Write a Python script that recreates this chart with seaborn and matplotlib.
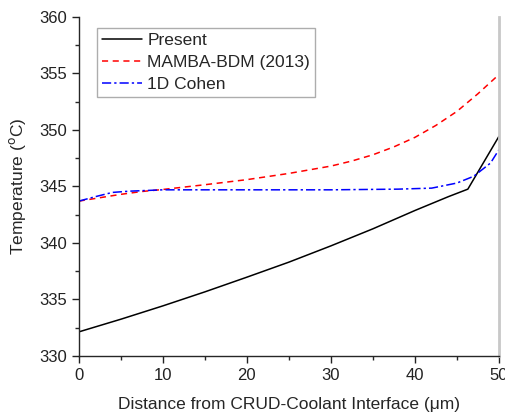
import matplotlib
matplotlib.use("Agg")
import matplotlib.pyplot as plt
from matplotlib.ticker import MultipleLocator
import seaborn as sns

# values
present_x = [0, 5, 10, 15, 20, 25, 30, 35, 40, 44, 46.3, 50]
present_y = [332.13, 333.25, 334.43, 335.67, 336.97, 338.3, 339.74, 341.25, 342.87, 344.1, 344.76, 349.43]

mamba_x = [0, 2.5, 5, 7.5, 10, 15, 20, 25, 30, 32.5, 35, 37.5, 40, 42.5, 45, 47.5, 50]
mamba_y = [343.7, 344.0, 344.3, 344.55, 344.73, 345.15, 345.6, 346.15, 346.8, 347.25, 347.8, 348.5, 349.34, 350.4, 351.64, 353.2, 354.9]

cohen_x = [0, 2, 4, 6, 10, 20, 30, 38, 42, 45, 47, 49, 50]
cohen_y = [343.7, 344.1, 344.47, 344.58, 344.7, 344.7, 344.7, 344.76, 344.85, 345.3, 345.9, 347.07, 348.25]

labels = ["Present", "MAMBA-BDM (2013)", "1D Cohen"]

sns.set_style("ticks")
plt.rcParams['font.family'] = ['Liberation Sans', 'DejaVu Sans']

fig = plt.figure(figsize=(5.05, 4.12), dpi=100)
ax = fig.add_axes([0.156, 0.136, 0.832, 0.823])

sns.lineplot(x=present_x, y=present_y, ax=ax, color="black", lw=1.1, label=labels[0])
sns.lineplot(x=mamba_x, y=mamba_y, ax=ax, color="red", lw=1.1, ls=(0, (4, 3)), label=labels[1])
sns.lineplot(x=cohen_x, y=cohen_y, ax=ax, color="blue", lw=1.1, ls=(0, (6, 2, 1.5, 2)), label=labels[2])

ax.set_xlim(0, 50)
ax.set_ylim(330, 360)
ax.xaxis.set_major_locator(MultipleLocator(10))
ax.xaxis.set_minor_locator(MultipleLocator(5))
ax.yaxis.set_major_locator(MultipleLocator(5))
ax.yaxis.set_minor_locator(MultipleLocator(2.5))
ax.tick_params(which="major", direction="out", length=5, width=1, labelsize=12, colors="#222222")
ax.tick_params(which="minor", direction="out", length=3, width=1)

ax.spines["top"].set_visible(False)
ax.spines["right"].set_color("#c8c8c8")
ax.spines["right"].set_linewidth(2)
ax.spines["left"].set_linewidth(1)
ax.spines["bottom"].set_linewidth(1)

ax.set_xlabel("Distance from CRUD-Coolant Interface (\u03bcm)", fontsize=12.5, labelpad=10)
ax.set_ylabel("Temperature ($^{\\rm o}$C)", fontsize=12.5, labelpad=8)

leg = ax.legend(loc="upper left", bbox_to_anchor=(0.043, 0.967), fontsize=12.5, frameon=True,
                fancybox=False, edgecolor="#999999", handlelength=2.3, handletextpad=0.3,
                borderpad=0.3, labelspacing=0.38, borderaxespad=0)
leg.get_frame().set_linewidth(1)

fig.savefig("out.png", dpi=100)
